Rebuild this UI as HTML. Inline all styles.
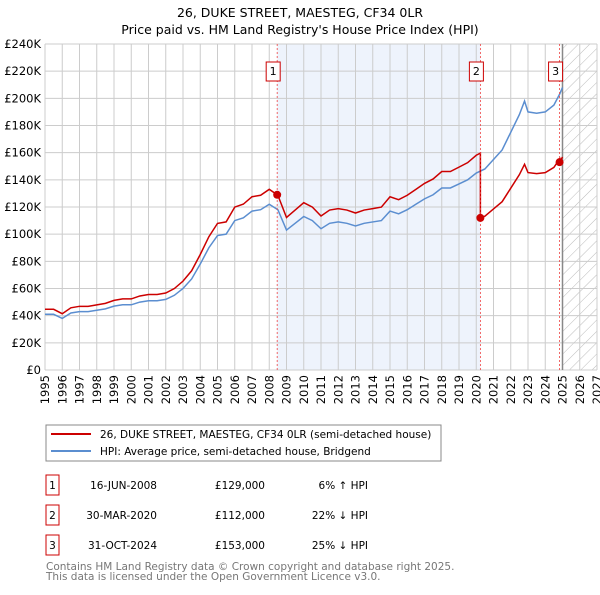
<!DOCTYPE html>
<html><head><meta charset="utf-8"><style>
body{margin:0;background:#fff;font-family:"Liberation Sans","DejaVu Sans",sans-serif;}
svg text{font-family:"DejaVu Sans","Liberation Sans",sans-serif;}
</style></head><body>
<svg id="c" width="600" height="590" xmlns="http://www.w3.org/2000/svg">
<defs><pattern id="hatch" width="8" height="8" patternUnits="userSpaceOnUse" patternTransform="rotate(45)"><line x1="0" y1="0" x2="0" y2="8" stroke="#bbb" stroke-width="1"/></pattern></defs>
<text x="300" y="17" text-anchor="middle" font-size="12.5">26, DUKE STREET, MAESTEG, CF34 0LR</text>
<text x="300" y="34" text-anchor="middle" font-size="12.5">Price paid vs. HM Land Registry's House Price Index (HPI)</text>
<g id="grid"></g><g id="marks"></g>
<rect x="46" y="425" width="395" height="36" fill="#fff" stroke="#888"/>
<line x1="51" y1="434" x2="91" y2="434" stroke="#cc0000" stroke-width="2"/>
<text x="100" y="438" font-size="10.5">26, DUKE STREET, MAESTEG, CF34 0LR (semi-detached house)</text>
<line x1="51" y1="451" x2="91" y2="451" stroke="#5b8ed0" stroke-width="2"/>
<text x="100" y="455" font-size="10.5">HPI: Average price, semi-detached house, Bridgend</text>
<g id="table" font-size="10.5"></g>
<text x="46" y="570" font-size="10.5" fill="#777">Contains HM Land Registry data © Crown copyright and database right 2025.</text>
<text x="46" y="580" font-size="10.5" fill="#777">This data is licensed under the Open Government Licence v3.0.</text>
</svg>
<script>
const hpiYears=[1995,1995.5,1996,1996.5,1997,1997.5,1998,1998.5,1999,1999.5,2000,2000.5,2001,2001.5,2002,2002.5,2003,2003.5,2004,2004.5,2005,2005.5,2006,2006.5,2007,2007.5,2008,2008.5,2009,2009.5,2010,2010.5,2011,2011.5,2012,2012.5,2013,2013.5,2014,2014.5,2015,2015.5,2016,2016.5,2017,2017.5,2018,2018.5,2019,2019.5,2020,2020.5,2021,2021.5,2022,2022.5,2022.8,2023,2023.5,2024,2024.5,2024.83,2025.0];
const hpiValues=[41,41,38,42,43,43,44,45,47,48,48,50,51,51,52,55,60,67,78,90,99,100,110,112,117,118,122,118,103,108,113,110,104,108,109,108,106,108,109,110,117,115,118,122,126,129,134,134,137,140,145,148,155,162,175,188,198,190,189,190,195,203,208];
const saleYears=[2008.46,2020.24,2024.83];
const salePrices=[129,112,153];
const saleLabels=["1","2","3"];
const saleDates=["16-JUN-2008","30-MAR-2020","31-OCT-2024"];
const salePriceText=["£129,000","£112,000","£153,000"];
const saleHpiText=["6% ↑ HPI","22% ↓ HPI","25% ↓ HPI"];
const yTicks=[0,20,40,60,80,100,120,140,160,180,200,220,240];
const xTicks=[1995,1996,1997,1998,1999,2000,2001,2002,2003,2004,2005,2006,2007,2008,2009,2010,2011,2012,2013,2014,2015,2016,2017,2018,2019,2020,2021,2022,2023,2024,2025,2026,2027];
const X0=45,X1=597,Y0=370,Y1=44;
const xs=y=>X0+(y-1995)/(2027-1995)*(X1-X0);
const ys=v=>Y0-v/240*(Y0-Y1);
const NS="http://www.w3.org/2000/svg";
function mk(p,t,a){const e=document.createElementNS(NS,t);for(const k in a)e.setAttribute(k,a[k]);p.appendChild(e);return e;}
const g=document.getElementById('grid'),m=document.getElementById('marks'),tb=document.getElementById('table');
const sh=mk(g,'rect',{x:xs(saleYears[0]),y:Y1,width:xs(saleYears[1])-xs(saleYears[0]),height:Y0-Y1,fill:'#eef3fc'});


const ht=mk(g,'rect',{x:xs(2025),y:Y1,width:X1-xs(2025),height:Y0-Y1,fill:'url(#hatch)'});


yTicks.forEach(v=>{const l=mk(g,'line',{x1:X0,x2:X1,y1:ys(v),y2:ys(v),stroke:'#ccc'});


const t=mk(g,'text',{x:X0-4,y:ys(v)+4,'text-anchor':'end','font-size':'11.5'});t.textContent=v===0?'£0':'£'+v+'K';

});
xTicks.forEach(y=>{const l=mk(g,'line',{x1:xs(y),x2:xs(y),y1:Y1,y2:Y0,stroke:'#ccc'});


const t=mk(g,'text',{x:0,y:0,'text-anchor':'end','font-size':'11.5',transform:`translate(${xs(y)+4},${Y0+5}) rotate(-90)`});t.textContent=y;

});
const vl=mk(g,'line',{x1:xs(2025),x2:xs(2025),y1:Y1,y2:Y0,stroke:'#888','stroke-width':1.5});


function hpiAt(y){for(let i=1;i<hpiYears.length;i++){if(y<=hpiYears[i]){const f=(y-hpiYears[i-1])/(hpiYears[i]-hpiYears[i-1]);return hpiValues[i-1]+f*(hpiValues[i]-hpiValues[i-1]);}}return hpiValues[hpiValues.length-1];}
const ratios=saleYears.map((y,i)=>salePrices[i]/hpiAt(y));
function ratioAt(y){let r=ratios[0];saleYears.forEach((s,i)=>{if(y>=s)r=ratios[i];});return r;}
const bp=hpiYears.map((y,i)=>xs(y)+','+ys(hpiValues[i])).join(' ');
const bl=mk(m,'polyline',{points:bp,fill:'none',stroke:'#5b8ed0','stroke-width':1.5});


let pts=[];const all=[...hpiYears,...saleYears].sort((a,b)=>a-b);
all.forEach(y=>{saleYears.forEach((s,i)=>{if(Math.abs(y-s)<1e-9&&i>0)pts.push([y,hpiAt(y)*ratios[i-1]]);});pts.push([y,hpiAt(y)*ratioAt(y)]);});
const rl=mk(m,'polyline',{points:pts.map(p=>xs(p[0])+','+ys(p[1])).join(' '),fill:'none',stroke:'#cc0000','stroke-width':1.5});


saleYears.forEach((s,i)=>{
const dl=mk(m,'line',{x1:xs(s),x2:xs(s),y1:Y1,y2:Y0,stroke:'#e44','stroke-dasharray':'2,2','stroke-width':0.8});


const c=mk(m,'circle',{cx:xs(s),cy:ys(salePrices[i]),r:4,fill:'#cc0000'});


const b=mk(m,'rect',{x:xs(s)-11,y:62,width:14,height:19,fill:'#fff',stroke:'#cc0000'});


const t=mk(m,'text',{x:xs(s)-4,y:75,'text-anchor':'middle','font-size':'11'});t.textContent=saleLabels[i];


const ry=475+i*30;
const rb=mk(tb,'rect',{x:46,y:ry,width:13,height:20,fill:'#fff',stroke:'#cc0000'});


const cells=[[52.5,saleLabels[i],'middle'],[157,saleDates[i],'end'],[265,salePriceText[i],'end'],[368,saleHpiText[i],'end']];
cells.forEach(cl=>{const tt=mk(tb,'text',{x:cl[0],y:ry+14,'text-anchor':cl[2]});tt.textContent=cl[1];

});
});
</script>
</body></html>
